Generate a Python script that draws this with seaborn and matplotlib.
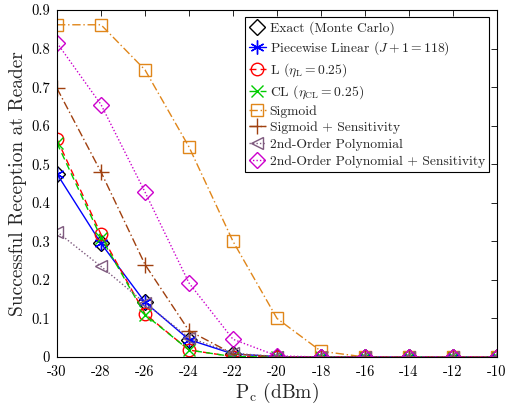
import numpy as np
import pandas as pd
import seaborn as sns
import matplotlib
matplotlib.use("Agg")
import matplotlib.pyplot as plt

pc = [-30, -28, -26, -24, -22, -20, -18, -16, -14, -12, -10]
exact = [0.475, 0.295, 0.142, 0.045, 0.008, 0.001, 0, 0, 0, 0, 0]
piecewise = [0.475, 0.295, 0.142, 0.045, 0.008, 0.001, 0, 0, 0, 0, 0]
l_vals = [0.565, 0.318, 0.112, 0.018, 0.001, 0, 0, 0, 0, 0, 0]
cl_vals = [0.555, 0.310, 0.110, 0.018, 0.001, 0, 0, 0, 0, 0, 0]
sigmoid = [0.862, 0.862, 0.745, 0.545, 0.300, 0.100, 0.015, 0, 0, 0, 0]
sigmoid_sens = [0.697, 0.480, 0.240, 0.068, 0.008, 0.001, 0, 0, 0, 0, 0]
poly = [0.325, 0.235, 0.140, 0.050, 0.010, 0.001, 0, 0, 0, 0, 0]
poly_sens = [0.815, 0.655, 0.428, 0.192, 0.046, 0.003, 0, 0, 0, 0, 0]
xtick_labels = ["-30", "-28", "-26", "-24", "-22", "-20", "-18", "-16", "-14", "-12", "-10"]
yticks = [0, 0.1, 0.2, 0.3, 0.4, 0.5, 0.6, 0.7, 0.8, 0.9]
ytick_labels = ["0", "0.1", "0.2", "0.3", "0.4", "0.5", "0.6", "0.7", "0.8", "0.9"]

sns.set_theme(style="white")
plt.rcParams["font.family"] = "serif"
plt.rcParams["font.serif"] = ["cmr10", "DejaVu Serif"]
plt.rcParams["mathtext.fontset"] = "cm"
plt.rcParams["axes.unicode_minus"] = False

fig = plt.figure(figsize=(5.07, 4.05), dpi=100)
ax = fig.add_axes([0.1124, 0.1185, 0.868, 0.8565])

asterisk = (6, 2, 0)
series = [
    ("Exact (Monte Carlo)", exact, "black", "D", "none", 8, 1.0, "none"),
    (r"Piecewise Linear ($J+1=118$)", piecewise, "#0000FF", asterisk, "-", 10, 1.0, "none"),
    (r"L ($\eta_{\mathrm{L}}=0.25$)", l_vals, "#FF0000", "o", (0, (5, 3)), 9, 1.0, "none"),
    (r"CL ($\eta_{\mathrm{CL}}=0.25$)", cl_vals, "#00CC00", "x", (0, (5, 3)), 8, 1.0, "none"),
    ("Sigmoid", sigmoid, "#E0861A", "s", (0, (6, 2, 1, 2)), 8, 1.0, "none"),
    ("Sigmoid + Sensitivity", sigmoid_sens, "#A0400F", "+", (0, (6, 2, 1, 2)), 11, 1.0, "none"),
    ("2nd-Order Polynomial", poly, "#7E5A7E", "<", (0, (1, 1.5)), 9, 1.0, "none"),
    ("2nd-Order Polynomial + Sensitivity", poly_sens, "#CC00CC", "D", (0, (1, 1.5)), 8, 1.0, "none"),
]

for label, vals, color, marker, ls, ms, lw, mfc in series:
    df = pd.DataFrame({"pc": pc, "val": vals})
    sns.lineplot(data=df, x="pc", y="val", ax=ax, color=color, marker=marker,
                 markersize=ms, markerfacecolor=mfc, markeredgecolor=color,
                 markeredgewidth=1.0, linewidth=lw, label=label)
    line = ax.lines[-1]
    if ls == "none":
        line.set_linestyle("None")
    else:
        line.set_linestyle(ls)

ax.set_xlim(-30, -10)
ax.set_ylim(0, 0.9)
ax.set_xticks(pc)
ax.set_xticklabels(xtick_labels)
ax.set_yticks(yticks)
ax.set_yticklabels(ytick_labels)
ax.tick_params(direction="in", top=True, right=True, length=4, width=0.6,
               labelsize=10.5, colors="black")
ax.tick_params(axis="x", pad=6)
ax.tick_params(axis="y", pad=5)
for s in ax.spines.values():
    s.set_color("black")
    s.set_linewidth(0.8)
ax.set_xlabel(r"P$_{\mathrm{c}}$ (dBm)", fontsize=14, labelpad=1)
ax.set_ylabel("Successful Reception at Reader", fontsize=14, labelpad=3)

leg = ax.legend(loc="upper right", bbox_to_anchor=(0.988, 0.987), fontsize=9.8,
                frameon=True, fancybox=False, edgecolor="black", framealpha=1,
                handlelength=1.2, handletextpad=0.3, borderpad=0.3,
                labelspacing=0.3, borderaxespad=0.2)
leg.get_frame().set_linewidth(0.8)

fig.savefig("out.png", dpi=100)
